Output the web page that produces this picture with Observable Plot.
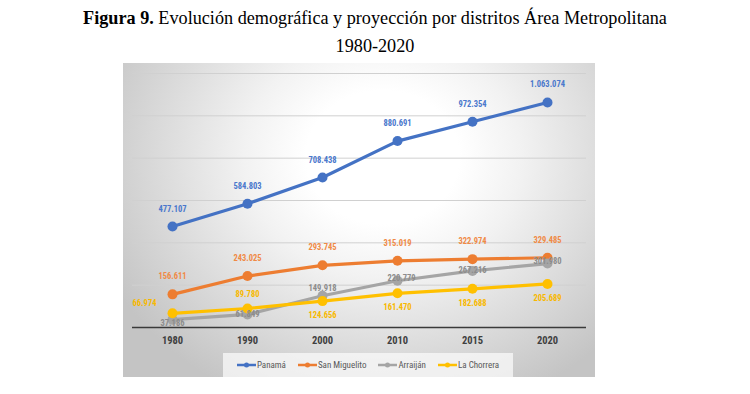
<!DOCTYPE html>
<html>
<head>
<meta charset="utf-8">
<script src="https://cdn.jsdelivr.net/npm/d3@7"></script>
<script src="https://cdn.jsdelivr.net/npm/@observablehq/plot@0.6"></script>
<style>
  html, body { margin: 0; padding: 0; background: #fff; }
  body { width: 750px; height: 394px; position: relative; overflow: hidden; }
  #title { position: absolute; top: 4px; left: 0; width: 750px; text-align: center;
    font-family: "Liberation Serif", "Times New Roman", serif; font-size: 18.2px; line-height: 28px; color: #000; }
  #frame { position: absolute; left: 123px; top: 63px; width: 472px; height: 314px;
    background: radial-gradient(ellipse 65% 85% at 55% 30%, #ffffff 25%, #f2f2f2 45%, #c4c4c4 100%); }
  #chart { position: absolute; left: 0; top: 0; }
  #legend { position: absolute; left: 100px; top: 290px; width: 290px; height: 24px;
    background: rgba(250,250,250,0.75); display: flex; align-items: center; justify-content: center; gap: 12px;
    font-family: "Liberation Sans Narrow", "Roboto Condensed", "DejaVu Sans Condensed", "Liberation Sans", sans-serif; font-size: 9px; color: #595959; }
  .item { display: flex; align-items: center; gap: 1px; }
</style>
</head>
<body>
<div id="title"><b>Figura 9.</b> Evolución demográfica y proyección por distritos Área Metropolitana<br>1980-2020</div>
<div id="frame">
  <div id="chart"></div>
  <div id="legend"></div>
</div>
<script>
const years = ["1980", "1990", "2000", "2010", "2015", "2020"];
const seriesNames = ["Panamá", "San Miguelito", "Arraiján", "La Chorrera"];
const panama = [477107, 584803, 708438, 880691, 972354, 1063074];
const sanMiguelito = [156611, 243025, 293745, 315019, 322974, 329485];
const arraijan = [37186, 61849, 149918, 220779, 267216, 301980];
const laChorrera = [66974, 89780, 124656, 161470, 182688, 205689];
const colors = ["#4472C4", "#ED7D31", "#A5A5A5", "#FFC000"];
const yTicks = [0, 200000, 400000, 600000, 800000, 1000000, 1200000];

const valuesBySeries = [panama, sanMiguelito, arraijan, laChorrera];
const data = [];
seriesNames.forEach((s, si) => {
  valuesBySeries[si].forEach((v, i) => data.push({serie: s, year: years[i], value: v, idx: i, si}));
});

// label placement per series (style, not data)
function labelDx(d) {
  if (d.si === 3 && d.idx === 0) return -28;
  if (d.si === 2 && d.idx === 3) return 4;
  return 0;
}
function labelDy(d) {
  if (d.si === 0 || d.si === 1) return -15;
  if (d.si === 3) return d.idx === 0 ? -7 : d.idx === 1 ? -11 : 17;
  // Arraiján
  return [6, 3, -5, 0, 2, 0][d.idx];
}
const labelColors = ["#4a78cc", "#f08a45", "#8c8c8c", "#f8b800"];

const loc = d3.formatLocale({decimal: ",", thousands: ".", grouping: [3], currency: ["", ""]});
const fmt = loc.format(",d");

const plot = Plot.plot({
  width: 472,
  height: 290,
  marginLeft: 9,
  marginRight: 9,
  marginTop: 10,
  marginBottom: 26,
  style: {background: "transparent", overflow: "visible"},
  x: {type: "point", domain: years, padding: 0.5, label: null},
  y: {domain: [0, 1200000], label: null, axis: null},
  color: {domain: seriesNames, range: colors},
  marks: [
    Plot.ruleY(yTicks.slice(1), {stroke: "#d0d0d0", strokeWidth: 1}),
    Plot.ruleY([0], {stroke: "#3a3a3a", strokeWidth: 1.6}),
    Plot.axisX({tickSize: 0, tickPadding: 9, fontSize: 10.5, fontWeight: "bold", fill: "#404040",
      fontFamily: "'Liberation Sans Narrow', 'Roboto Condensed', 'Liberation Sans', sans-serif"}),
    Plot.line(data, {x: "year", y: "value", z: "serie", stroke: "serie", strokeWidth: 3.2}),
    Plot.dot(data, {x: "year", y: "value", fill: "serie", r: 5}),
    ...[0, 1, 2, 3].map(si => Plot.text(data.filter(d => d.si === si), {
      x: "year", y: "value", text: d => fmt(d.value),
      fill: labelColors[si], fontSize: 8.5, fontWeight: "bold",
      fontFamily: "'Liberation Sans Narrow', 'Roboto Condensed', 'Liberation Sans', sans-serif",
      render: (index, scales, values, dims, context, next) => {
        const g = next(index, scales, values, dims, context);
        const items = data.filter(d => d.si === si);
        d3.select(g).selectAll("text").each(function(_, k) {
          const d = items[index[k]];
          this.setAttribute("transform", `translate(${values.x[index[k]] + labelDx(d)},${values.y[index[k]] + labelDy(d)})`);
          this.removeAttribute("x"); this.removeAttribute("y");
        });
        return g;
      }
    }))
  ]
});
document.getElementById("chart").appendChild(plot);

const legend = d3.select("#legend");
seriesNames.forEach((s, i) => {
  const it = legend.append("div").attr("class", "item");
  const svg = it.append("svg").attr("width", 19).attr("height", 8);
  svg.append("line").attr("x1", 0).attr("x2", 19).attr("y1", 4).attr("y2", 4).attr("stroke", colors[i]).attr("stroke-width", 2.5);
  svg.append("circle").attr("cx", 9.5).attr("cy", 4).attr("r", 2.5).attr("fill", colors[i]);
  it.append("span").text(s);
});
</script>
</body>
</html>
